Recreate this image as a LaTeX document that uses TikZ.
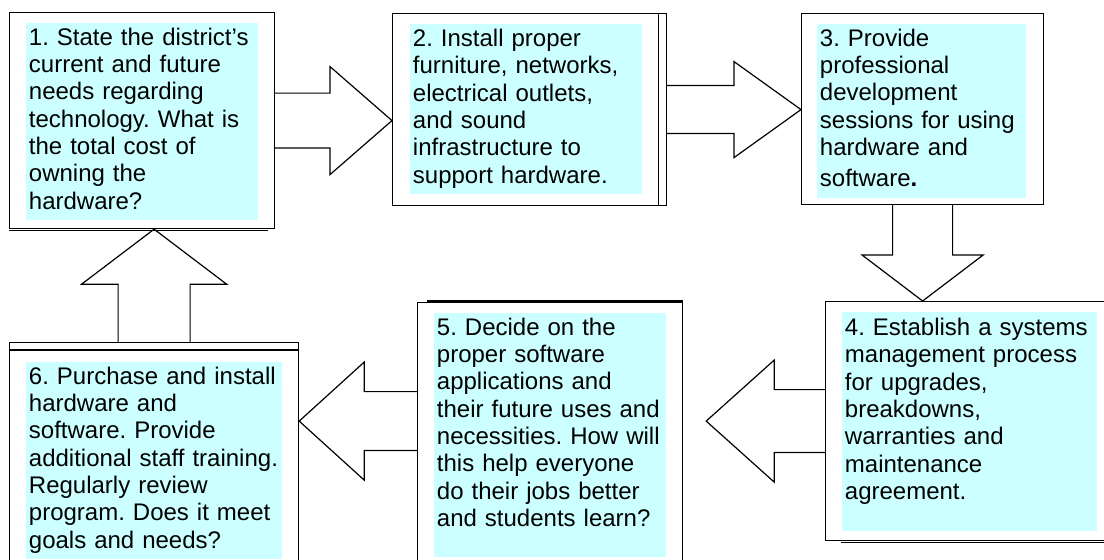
\documentclass[tikz,border=0pt]{standalone}
\usepackage{fontspec}
\setmainfont{Liberation Sans}
\usetikzlibrary{calc}
\definecolor{pale}{HTML}{CCFFFF}
\frenchspacing
\tikzset{
  frame/.style={draw=black, line width=0.9pt, anchor=north west, inner sep=0pt},
  note/.style={fill=pale, anchor=north west, inner sep=2pt, align=left,
    font=\fontsize{18}{20.5}\selectfont,
    execute at begin node=\strut, execute at end node=\strut},
  trim/.style={draw=black, line width=0.9pt},
  hollow/.style={draw=black, line width=0.9pt, line join=miter},
}
% fat outline arrow: start, tip, shaft half width, head half width, head length
\newcommand{\blockarrow}[5]{%
  \coordinate (ba-s) at (#1);
  \coordinate (ba-e) at (#2);
  \coordinate (ba-h) at ($(ba-e)!#5!(ba-s)$);
  \draw[hollow] ($(ba-s)!#3!90:(ba-e)$) -- ($(ba-h)!#3!90:(ba-e)$)
    -- ($(ba-h)!#4!90:(ba-e)$) -- (ba-e) -- ($(ba-h)!#4!-90:(ba-e)$)
    -- ($(ba-h)!#3!-90:(ba-e)$) -- ($(ba-s)!#3!-90:(ba-e)$);
}
\begin{document}
\begin{tikzpicture}[x=0.75pt, y=-0.75pt]
\useasboundingbox (0,0) rectangle (1104,560);
\clip (0,0) rectangle (1104,560);
% frames
\node[frame, minimum width=198.75pt, minimum height=162pt] (b1) at (9,12) {};
\node[frame, minimum width=205.5pt, minimum height=144pt] (b2) at (392,13) {};
\node[frame, minimum width=181.5pt, minimum height=143.25pt] (b3) at (801,13) {};
\node[frame, minimum width=216pt, minimum height=179.25pt] (b4) at (825,301) {};
\node[frame, minimum width=198.75pt, minimum height=202.5pt] (b5) at (417,302) {};
\node[frame, minimum width=216.75pt, minimum height=172.5pt] (b6) at (9,342) {};
% step texts
\node[note, text width=170pt, minimum height=146.25pt] (t1) at ([xshift=12.75pt,yshift=-8.25pt]b1.north west)
  {1. State the district’s\\ current and future\\ needs regarding\\ technology. What is\\ the total cost of\\ owning the\\ hardware?};
\node[note, text width=170pt, minimum height=127.5pt] (t2) at ([xshift=13.5pt,yshift=-8.25pt]b2.north west)
  {2. Install proper\\ furniture, networks,\\ electrical outlets,\\ and sound\\ infrastructure to\\ support hardware.};
\node[note, text width=152.75pt, minimum height=127.5pt] (t3) at ([xshift=12pt,yshift=-8.25pt]b3.north west)
  {3. Provide\\ professional\\ development\\ sessions for using\\ hardware and\\[3pt] software\textbf{.}};
\node[note, text width=187.25pt, minimum height=164.25pt] (t4) at ([xshift=12.75pt,yshift=-8.25pt]b4.north west)
  {4. Establish a systems\\ management process\\ for upgrades,\\ breakdowns,\\ warranties and\\ maintenance\\ agreement.\\[-6pt]\mbox{}};
\node[note, text width=170pt, minimum height=181.5pt] (t5) at ([xshift=12.75pt,yshift=-8.25pt]b5.north west)
  {5. Decide on the\\ proper software\\ applications and\\ their future uses and\\ necessities. How will\\ this help everyone\\ do their jobs better\\ and students learn?\\[-6pt]\mbox{}};
\node[note, text width=188pt, minimum height=144.75pt] (t6) at ([xshift=12.75pt,yshift=-15pt]b6.north west)
  {6. Purchase and install\\ hardware and\\ software. Provide\\ additional staff training.\\ Regularly review\\ program. Does it meet\\ goals and needs?};
% doubled edges
\draw[trim] ([yshift=-1pt]b1.south west) -- ([xshift=-5.25pt,yshift=-1pt]b1.south east);
\draw[trim] ([xshift=-6.75pt]b2.north east) -- ([xshift=-6.75pt]b2.south east);
\draw[trim] ([xshift=12pt,yshift=-1pt]b4.south west) -- ([yshift=-1pt]b4.south east);
\draw[trim] ([xshift=7.5pt,yshift=0.8pt]b5.north west) -- ([yshift=0.8pt]b5.north east);
\draw[trim] ([yshift=-6pt]b6.north west) -- ([yshift=-6pt]b6.north east);
% arrows between steps
\coordinate (gap5) at ([xshift=17.25pt]b5.east);
\blockarrow{b1.east}{b1.east -| b2.west}{20.6pt}{40.5pt}{46.5pt}
\blockarrow{b2.east}{b2.east -| b3.west}{18pt}{36pt}{50.25pt}
\blockarrow{b3.south}{b3.south |- b4.north}{22.5pt}{45.4pt}{34.5pt}
\blockarrow{b4.west}{b4.west -| gap5}{23.6pt}{45.75pt}{51pt}
\blockarrow{b5.west |- b4.west}{b4.west -| b6.east}{22.1pt}{44.25pt}{48.75pt}
\blockarrow{b6.north}{b6.north |- b1.south}{27pt}{54.4pt}{41.25pt}
\end{tikzpicture}
\end{document}
